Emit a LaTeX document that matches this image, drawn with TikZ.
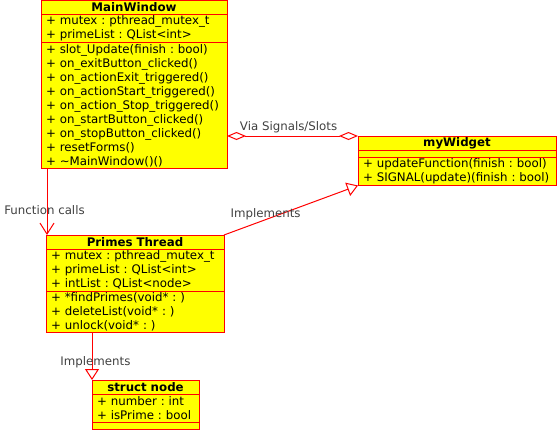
\documentclass[tikz,border=0pt]{standalone}
\usepackage{fontspec}
\setmainfont{DejaVu Sans}
\usetikzlibrary{arrows.meta}
\usetikzlibrary{positioning}
\usepackage{xcolor}

\definecolor{umlred}{RGB}{255,0,0}
\definecolor{umlyellow}{RGB}{255,255,0}
\definecolor{notegray}{RGB}{64,64,64}

\begin{document}
\frenchspacing
\begin{tikzpicture}[x=1pt, y=-1pt,
  every node/.style={font=\fontsize{11.8}{14}\selectfont},
  part/.style={draw=umlred, fill=umlyellow, line width=1pt, outer sep=0pt,
    inner xsep=5pt, inner ysep=0pt, anchor=north west, text width=#1, align=left},
  head/.style={part=#1, align=center, minimum height=14pt,
    font=\fontsize{11.8}{14}\selectfont\bfseries},
  link/.style={draw=umlred, line width=1pt},
  note/.style={text=notegray, inner sep=0pt},
  diam/.tip={Diamond[open, length=19pt, width=8pt]},
  tri/.tip={Triangle[open, length=11pt, width=14pt]}]
\useasboundingbox (0,0) rectangle (557,429);
\clip (0,0) rectangle (557,429);

% MainWindow
\node[head=176pt] (mwname) at (41,0.5) {MainWindow};
\node[part=176pt, minimum height=28pt, below=0pt of mwname] (mwattr)
  {+ mutex : pthread\_mutex\_t\\+ primeList : QList<int>};
\node[part=176pt, minimum height=126pt, below=0pt of mwattr] (mwops)
  {+ slot\_Update(finish : bool)\\+ on\_exitButton\_clicked()\\
   + on\_actionExit\_triggered()\\+ on\_actionStart\_triggered()\\
   + on\_action\_Stop\_triggered()\\+ on\_startButton\_clicked()\\
   + on\_stopButton\_clicked()\\+ resetForms()\\+ \textasciitilde MainWindow()()};

% myWidget
\node[head=188pt] (wgname) at (358,136) {myWidget};
\node[part=188pt, minimum height=7.5pt, below=0pt of wgname] (wgattr) {};
\node[part=188pt, minimum height=28pt, below=0pt of wgattr] (wgops)
  {+ updateFunction(finish : bool)\\+ SIGNAL(update)(finish : bool)};

% Primes Thread
\node[head=168pt] (ptname) at (46,235) {Primes Thread};
\node[part=168pt, minimum height=42pt, below=0pt of ptname] (ptattr)
  {+ mutex : pthread\_mutex\_t\\+ primeList : QList<int>\\+ intList : QList<node>};
\node[part=168pt, minimum height=41pt, below=0pt of ptattr] (ptops)
  {+ *findPrimes(void* : )\\+ deleteList(void* : )\\+ unlock(void* : )};

% struct node
\node[head=97pt] (snname) at (92,380) {struct node};
\node[part=97pt, minimum height=28pt, below=0pt of snname] (snattr)
  {+ number : int\\+ isPrime : bool};
\node[part=97pt, minimum height=7pt, below=0pt of snattr] (snops) {};

% connectors
\draw[link, diam-diam] (wgname.north west -| mwops.east) -- (wgname.north west)
  node[note, pos=.47, above=3pt] {Via Signals/Slots};
\draw[link, -{Straight Barb[length=11pt, width=14pt]}]
  ([xshift=6pt]mwops.south west) -- ([xshift=1pt]ptname.north west)
  node[note, pos=.63, xshift=-2.5pt] {Function calls};
\draw[link, -tri] (ptname.north east) -- (wgops.south west)
  node[note, pos=.31, yshift=5.5pt] {Implements};
\draw[link, -tri] (snname.north west |- ptops.south) -- (snname.north west)
  node[note, pos=.62, xshift=3.5pt] {Implements};
\end{tikzpicture}
\end{document}
